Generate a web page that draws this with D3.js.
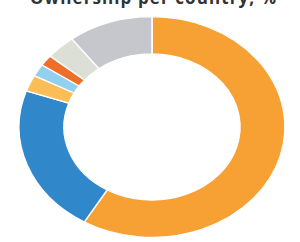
<!DOCTYPE html>
<html>
<head>
<meta charset="utf-8">
<script src="https://cdn.jsdelivr.net/npm/d3@7"></script>
<style>
  body { margin: 0; background: #fff; }
  svg { display: block; }
</style>
</head>
<body>
<div id="chart"></div>
<script>
var width = 300,
    height = 242;

// share of ownership, read clockwise from 12 o'clock
var countries = ["A", "B", "C", "D", "E", "F", "G"];
var shares = [58.5, 21.8, 2.4, 1.8, 1.6, 3.6, 10.3];
var colours = ["#f7a033", "#3088cb", "#fbbe56", "#93d0f0", "#ef6f2a", "#dcdfd5", "#c6c7cc"];

var title = "Ownership per country, %";

var cx = 152, cy = 127,
    outerR = 133, innerR = 88,
    squash = 0.83; // picture is a little flattened vertically

var data = countries.map(function(c, i) { return {country: c, share: shares[i]}; });

var color = d3.scaleOrdinal()
    .domain(countries)
    .range(colours);

var pie = d3.pie()
    .sort(null)
    .value(function(d) { return d.share; });

var arc = d3.arc()
    .innerRadius(innerR)
    .outerRadius(outerR);

var svg = d3.select("#chart").append("svg")
    .attr("width", width)
    .attr("height", height);

var g = svg.append("g")
    .attr("transform", "translate(" + cx + "," + cy + ") scale(1," + squash + ")");

g.selectAll("path")
    .data(pie(data))
    .enter().append("path")
    .attr("d", arc)
    .attr("fill", function(d) { return color(d.data.country); })
    .attr("stroke", "#fff")
    .attr("stroke-width", 1.5);

svg.append("text")
    .attr("x", 153)
    .attr("y", 4)
    .attr("text-anchor", "middle")
    .attr("font-family", "'Open Sans', sans-serif")
    .attr("font-weight", "bold")
    .attr("font-size", 17)
    .attr("fill", "#333")
    .attr("textLength", 246)
    .text(title);
</script>
</body>
</html>
